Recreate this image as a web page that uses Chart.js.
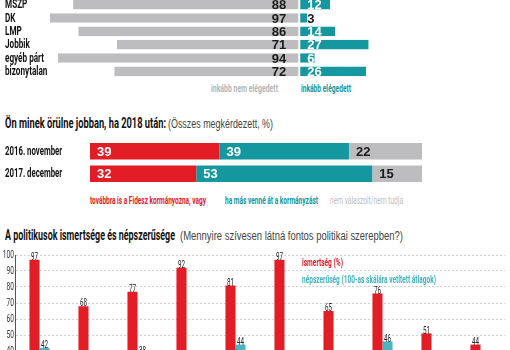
<!DOCTYPE html>
<html>
<head>
<meta charset="utf-8">
<script src="https://cdn.jsdelivr.net/npm/chart.js@4.4.1/dist/chart.umd.min.js"></script>
<style>
    html, body { margin: 0; padding: 0; background: #fff; width: 510px; height: 350px; overflow: hidden; position: relative; }
    .box { position: absolute; left: 0; width: 510px; }
    .t { position: absolute; white-space: nowrap; transform-origin: 0 50%; font-family: Roboto, sans-serif; font-weight: 700; line-height: 1; }
    .n { font-family: "Liberation Sans", Arial, sans-serif; font-weight: 400; }
</style>
</head>
<body>
<div class="box" style="top:-2px;height:80px"><canvas id="satisfactionChart"></canvas></div>
<div class="box" style="top:140px;height:45px"><canvas id="electionChart"></canvas></div>
<div class="box" style="top:245px;height:170px"><canvas id="politicianChart"></canvas></div>

<span class="t" data-w="67" style="left:211px;top:83px;font-size:11px;color:#b5b5b7">inkább nem elégedett</span>
<span class="t" data-w="50" style="left:301px;top:83px;font-size:11px;color:#14979f">inkább elégedett</span>

<span class="t" data-w="161" style="left:5px;top:116px;font-size:15px;color:#111">Ön minek örülne jobban, ha 2018 után:</span>
<span class="t n" data-w="105" style="left:168px;top:118px;font-size:12px;color:#444">(Összes megkérdezett, %)</span>
<span class="t" data-w="116" style="left:90px;top:195px;font-size:11px;color:#e31d25">továbbra is a Fidesz kormányozna, vagy</span>
<span class="t" data-w="93" style="left:225px;top:195px;font-size:11px;color:#14979f">ha más venné át a kormányzást</span>
<span class="t" data-w="73" style="left:330px;top:195px;font-size:11px;color:#bdbdbf;font-weight:400">nem válaszolt/nem tudja</span>

<span class="t" data-w="170" style="left:5px;top:228px;font-size:15px;color:#111">A politikusok ismertsége és népszerűsége</span>
<span class="t n" data-w="223" style="left:180px;top:230px;font-size:12px;color:#444">(Mennyire szívesen látná fontos politikai szerepben?)</span>
<span class="t" data-w="41" style="left:302px;top:257px;font-size:11px;color:#e31d25">ismertség (%)</span>
<span class="t" data-w="134" style="left:302px;top:274px;font-size:11px;color:#3fb3c0">népszerűség (100-as skálára vetített átlagok)</span>

<script>
// top block: satisfaction with parties
var partyLabels = ['MSZP', 'DK', 'LMP', 'Jobbik', 'egyéb párt', 'bizonytalan'];
var notSatisfied = [88, 97, 86, 71, 94, 72];
var satisfied = [12, 3, 14, 27, 6, 26];

// middle block: what would you prefer after 2018
var surveyLabels = ['2016. november', '2017. december'];
var fideszStays = [39, 32];
var otherGovernment = [39, 53];
var noAnswer = [22, 15];

// bottom block: awareness and popularity of politicians (names cut off in the picture)
var politicianLabels = ['1', '2', '3', '4', '5', '6', '7', '8', '9', '10'];
var awareness = [97, 68, 77, 92, 81, 97, 65, 76, 51, 44];
var popularity = [42, 36, 38, 32, 44, 30, 34, 46, 36, 33];
var yTicks = [0, 10, 20, 30, 40, 50, 60, 70, 80, 90, 100];

var RED = '#e31d25';
var TEAL = '#14979f';
var LIGHT_TEAL = '#4ab6c2';
var GRAY = '#bdbdbf';

// fit html texts to their width (the original uses a condensed face)
function fitTexts() {
    document.querySelectorAll('.t').forEach(function (el) {
        el.style.transform = 'none';
        var w = el.getBoundingClientRect().width;
        el.style.transform = 'scaleX(' + (el.dataset.w / w) + ')';
    });
}

// draw horizontally squeezed text on a canvas
function squeezeText(ctx, text, x, y, sx, align) {
    ctx.save();
    ctx.translate(x, y);
    ctx.scale(sx, 1);
    ctx.textAlign = align;
    ctx.fillText(text, 0, 0);
    ctx.restore();
}

function rowLabels(sx) {
    return {
        id: 'rowLabels',
        afterDraw: function (chart) {
            var ctx = chart.ctx;
            var yScale = chart.scales.y;
            ctx.save();
            ctx.font = 'bold 12px Roboto';
            ctx.fillStyle = '#111';
            ctx.textBaseline = 'middle';
            chart.data.labels.forEach(function (label, i) {
                squeezeText(ctx, label, 5, yScale.getPixelForValue(i) + 0.5, sx, 'left');
            });
            ctx.restore();
        }
    };
}

var charts = [];

// Create the satisfaction chart
var satisfactionChart = new Chart(document.getElementById('satisfactionChart'), {
    type: 'bar',
    data: {
        labels: partyLabels,
        datasets: [{
            label: 'inkább nem elégedett',
            data: notSatisfied.map(function (v) { return -v; }),
            backgroundColor: GRAY,
            borderColor: '#fff',
            borderWidth: { top: 0, right: 1, bottom: 0, left: 0 },
            borderSkipped: false
        }, {
            label: 'inkább elégedett',
            data: satisfied,
            backgroundColor: TEAL,
            borderColor: '#fff',
            borderWidth: { top: 0, right: 0, bottom: 0, left: 1 },
            borderSkipped: false
        }]
    },
    options: {
        indexAxis: 'y',
        responsive: true,
        maintainAspectRatio: false,
        animation: false,
        layout: { padding: { left: 5, right: 0, top: 0, bottom: 0 } },
        datasets: { bar: { barPercentage: 0.72, categoryPercentage: 1 } },
        scales: {
            x: { stacked: true, min: -97, max: 82, display: false },
            y: {
                stacked: true,
                grid: { display: false },
                border: { display: false },
                ticks: { display: false },
                afterFit: function (s) { s.width = 45; }
            }
        },
        plugins: { legend: { display: false }, tooltip: { enabled: false } }
    },
    plugins: [rowLabels(0.68), {
        id: 'values',
        afterDatasetsDraw: function (chart) {
            var ctx = chart.ctx;
            ctx.save();
            ctx.font = 'bold 13px "Liberation Sans"';
            ctx.textBaseline = 'middle';
            chart.getDatasetMeta(0).data.forEach(function (bar, i) {
                ctx.fillStyle = '#1a1a1a';
                ctx.textAlign = 'right';
                ctx.fillText(notSatisfied[i], bar.base - 13, bar.y + 1);
            });
            chart.getDatasetMeta(1).data.forEach(function (bar, i) {
                ctx.fillStyle = satisfied[i] < 5 ? '#1a1a1a' : '#fff';
                ctx.textAlign = 'left';
                ctx.fillText(satisfied[i], bar.base + 8, bar.y + 1);
            });
            ctx.restore();
        }
    }]
});
charts.push(satisfactionChart);

// Create the election preference chart
var electionChart = new Chart(document.getElementById('electionChart'), {
    type: 'bar',
    data: {
        labels: surveyLabels,
        datasets: [
            { label: 'továbbra is a Fidesz kormányozna, vagy', data: fideszStays, backgroundColor: RED },
            { label: 'ha más venné át a kormányzást', data: otherGovernment, backgroundColor: TEAL },
            { label: 'nem válaszolt/nem tudja', data: noAnswer, backgroundColor: GRAY }
        ]
    },
    options: {
        indexAxis: 'y',
        responsive: true,
        maintainAspectRatio: false,
        animation: false,
        layout: { padding: { left: 5, right: 88, top: 0, bottom: 0 } },
        datasets: { bar: { barPercentage: 0.73, categoryPercentage: 1 } },
        scales: {
            x: { stacked: true, min: 0, max: 100, display: false },
            y: {
                stacked: true,
                grid: { display: false },
                border: { display: false },
                ticks: { display: false },
                afterFit: function (s) { s.width = 85; }
            }
        },
        plugins: { legend: { display: false }, tooltip: { enabled: false } }
    },
    plugins: [rowLabels(0.65), {
        id: 'values',
        afterDatasetsDraw: function (chart) {
            var ctx = chart.ctx;
            ctx.save();
            ctx.font = 'bold 13px "Liberation Sans"';
            ctx.textBaseline = 'middle';
            ctx.textAlign = 'left';
            chart.data.datasets.forEach(function (ds, d) {
                chart.getDatasetMeta(d).data.forEach(function (bar, i) {
                    ctx.fillStyle = d === 2 ? '#1a1a1a' : '#fff';
                    ctx.fillText(ds.data[i], bar.base + 7, bar.y + 1);
                });
            });
            ctx.restore();
        }
    }]
});
charts.push(electionChart);

// Create the politicians chart
var politicianChart = new Chart(document.getElementById('politicianChart'), {
    type: 'bar',
    data: {
        labels: politicianLabels,
        datasets: [
            { label: 'ismertség (%)', data: awareness, backgroundColor: RED },
            { label: 'népszerűség (100-as skálára vetített átlagok)', data: popularity, backgroundColor: LIGHT_TEAL }
        ]
    },
    options: {
        responsive: true,
        maintainAspectRatio: false,
        animation: false,
        layout: { padding: { left: 0, right: 5, top: 10, bottom: 0 } },
        datasets: { bar: { barPercentage: 1, categoryPercentage: 0.41 } },
        scales: {
            x: { display: false },
            y: {
                min: 0,
                max: 100,
                afterBuildTicks: function (s) { s.ticks = yTicks.map(function (v) { return { value: v }; }); },
                grid: { color: '#d2d2d2', drawTicks: false },
                border: { color: '#555', width: 1, dash: [2, 2] },
                ticks: { display: false },
                afterFit: function (s) { s.width = 15; }
            }
        },
        plugins: { legend: { display: false }, tooltip: { enabled: false } }
    },
    plugins: [{
        id: 'axisAndValues',
        afterDraw: function (chart) {
            var ctx = chart.ctx;
            var yScale = chart.scales.y;
            ctx.save();
            ctx.fillStyle = '#333';
            ctx.font = '11px Roboto';
            ctx.textBaseline = 'middle';
            yTicks.forEach(function (v) {
                squeezeText(ctx, String(v), yScale.left + yScale.width - 1, yScale.getPixelForValue(v) + 0.5, 0.6, 'right');
            });
            ctx.fillStyle = '#222';
            ctx.textBaseline = 'bottom';
            chart.data.datasets.forEach(function (ds, d) {
                chart.getDatasetMeta(d).data.forEach(function (bar, i) {
                    squeezeText(ctx, String(ds.data[i]), bar.x, bar.y + 3, 0.57, 'center');
                });
            });
            ctx.restore();
        }
    }]
});
charts.push(politicianChart);

fitTexts();
Promise.all([
    document.fonts.load('bold 12px Roboto'),
    document.fonts.load('11px Roboto'),
    document.fonts.load('bold 13px "Liberation Sans"'),
    document.fonts.load('12px "Liberation Sans"')
]).then(function () {
    fitTexts();
    charts.forEach(function (c) { c.draw(); });
});
</script>
</body>
</html>
